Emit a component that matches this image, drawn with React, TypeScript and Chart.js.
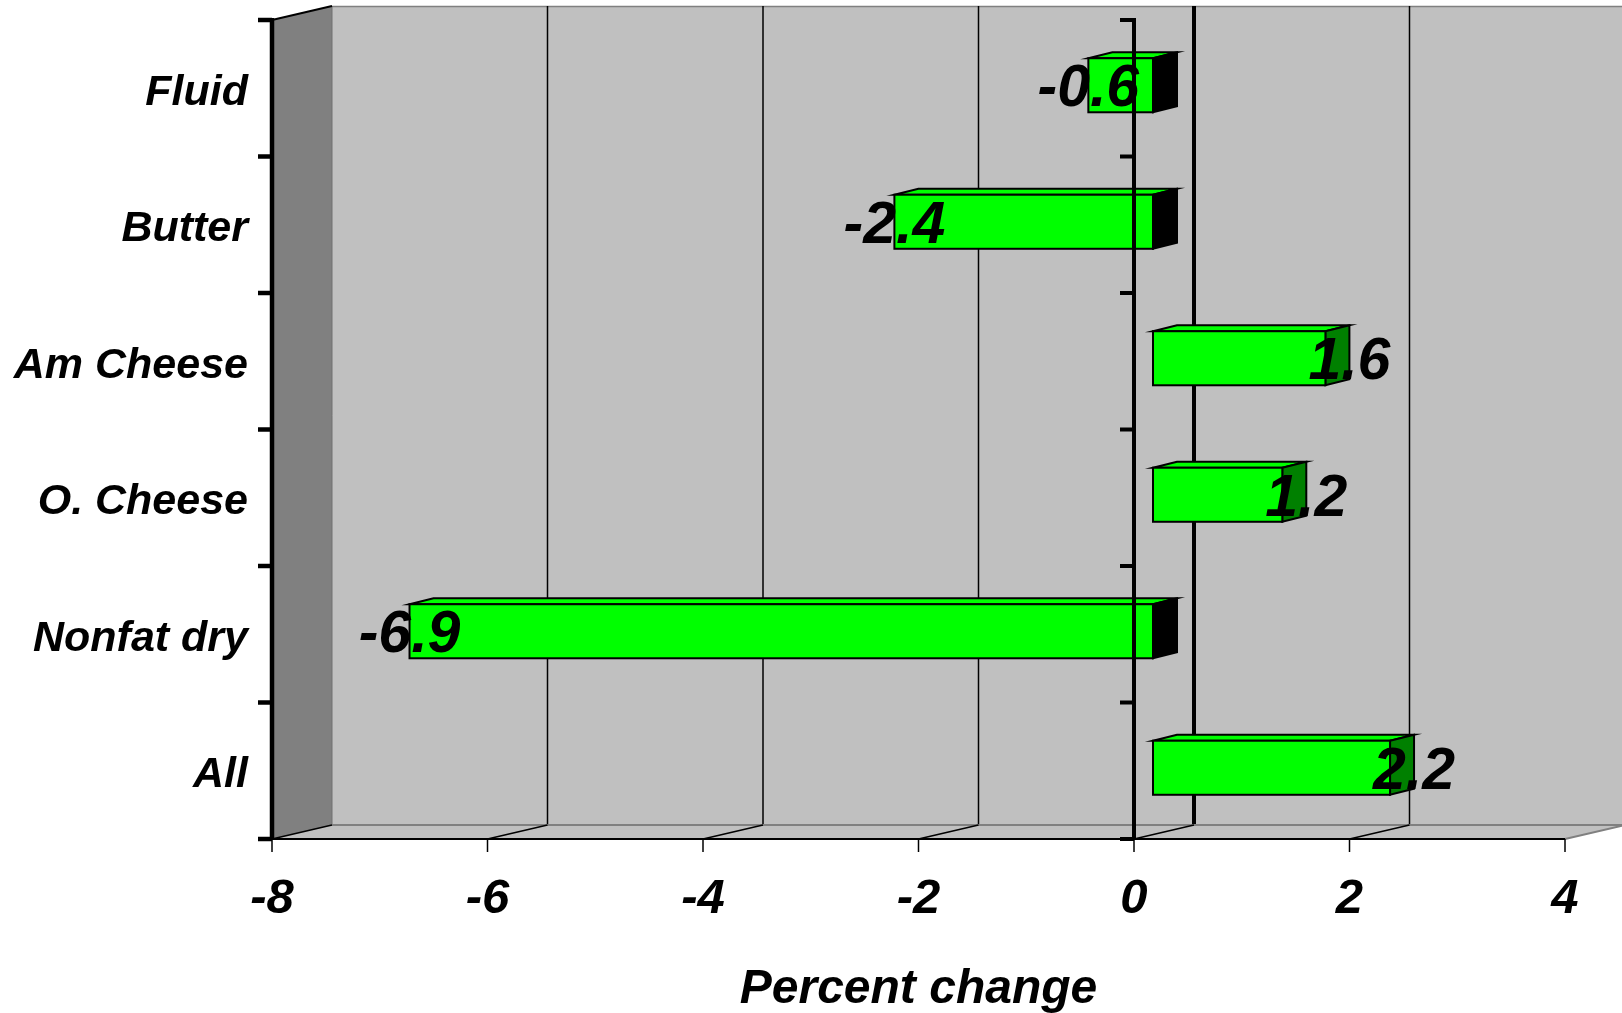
import { useEffect, useRef } from "react";
import { Chart, registerables } from "chart.js";

Chart.register(...registerables);

// ---- data ----
const categories = ["Fluid", "Butter", "Am Cheese", "O. Cheese", "Nonfat dry", "All"];
const values = [-0.6, -2.4, 1.6, 1.2, -6.9, 2.2];
const xTicks = [-8, -6, -4, -2, 0, 2, 4];
const axisTitle = "Percent change";

// ---- 3D geometry (styles) ----
const WALL_DX = 60;
const WALL_DY = -14;
const BAR_DX = 19;
const BAR_DY = -3;
const BAR_DEPTH_DX = 24;
const BAR_DEPTH_DY = -6;
const FONT = '"Liberation Sans", Arial, sans-serif';

const threeD = {
  id: "threeD",
  beforeDatasetsDraw(chart: any) {
    const ctx = chart.ctx as CanvasRenderingContext2D;
    const { top, bottom, left, right } = chart.chartArea;
    const xs = chart.scales.x;
    const W = chart.width;
    ctx.save();
    // back wall
    ctx.fillStyle = "#C0C0C0";
    ctx.fillRect(left + WALL_DX, top + WALL_DY, W - (left + WALL_DX), bottom - top);
    // top border of back wall
    ctx.strokeStyle = "#808080";
    ctx.lineWidth = 1.5;
    ctx.beginPath();
    ctx.moveTo(left + WALL_DX, top + WALL_DY + 0.5);
    ctx.lineTo(W, top + WALL_DY + 0.5);
    ctx.stroke();
    // left wall
    ctx.fillStyle = "#808080";
    ctx.beginPath();
    ctx.moveTo(left, top);
    ctx.lineTo(left + WALL_DX, top + WALL_DY);
    ctx.lineTo(left + WALL_DX, bottom + WALL_DY);
    ctx.lineTo(left, bottom);
    ctx.closePath();
    ctx.fill();
    ctx.strokeStyle = "#707070";
    ctx.lineWidth = 1;
    ctx.beginPath();
    ctx.moveTo(left + WALL_DX, top + WALL_DY);
    ctx.lineTo(left + WALL_DX, bottom + WALL_DY);
    ctx.stroke();
    // left wall top edge
    ctx.strokeStyle = "#000";
    ctx.lineWidth = 2;
    ctx.beginPath();
    ctx.moveTo(left, top);
    ctx.lineTo(left + WALL_DX, top + WALL_DY);
    ctx.stroke();
    // back wall gridlines
    ctx.strokeStyle = "#000";
    xTicks.forEach((v) => {
      if (v === xTicks[0]) return;
      const x = xs.getPixelForValue(v) + WALL_DX;
      ctx.lineWidth = v === 0 ? 4 : 1.5;
      ctx.beginPath();
      ctx.moveTo(x, top + WALL_DY);
      ctx.lineTo(x, bottom + WALL_DY);
      ctx.stroke();
    });
    // floor
    ctx.fillStyle = "#C0C0C0";
    ctx.beginPath();
    ctx.moveTo(left, bottom);
    ctx.lineTo(left + WALL_DX, bottom + WALL_DY);
    ctx.lineTo(right + WALL_DX, bottom + WALL_DY);
    ctx.lineTo(right, bottom);
    ctx.closePath();
    ctx.fill();
    ctx.strokeStyle = "#808080";
    ctx.lineWidth = 2;
    ctx.beginPath();
    ctx.moveTo(left + WALL_DX, bottom + WALL_DY);
    ctx.lineTo(right + WALL_DX, bottom + WALL_DY);
    ctx.moveTo(right, bottom);
    ctx.lineTo(right + WALL_DX, bottom + WALL_DY);
    ctx.stroke();
    // floor diagonals
    ctx.strokeStyle = "#000";
    ctx.lineWidth = 1.5;
    xTicks.forEach((v) => {
      const x = xs.getPixelForValue(v);
      if (v === xTicks[xTicks.length - 1]) return;
      ctx.beginPath();
      ctx.moveTo(x, bottom);
      ctx.lineTo(x + WALL_DX, bottom + WALL_DY);
      ctx.stroke();
    });
    ctx.restore();
  },
  afterDatasetsDraw(chart: any) {
    const ctx = chart.ctx as CanvasRenderingContext2D;
    const { top, bottom, left, right } = chart.chartArea;
    const xs = chart.scales.x;
    const ys = chart.scales.y;
    const meta = chart.getDatasetMeta(0);
    const ds = chart.data.datasets[0].data as number[];
    ctx.save();
    ctx.lineJoin = "miter";
    const boxes: any[] = [];
    meta.data.forEach((el: any, i: number) => {
      const v = ds[i];
      const h = el.height;
      const x0 = Math.min(el.x, el.base) + BAR_DX;
      const x1 = Math.max(el.x, el.base) + BAR_DX;
      const y0 = el.y - h / 2 + BAR_DY;
      const y1 = el.y + h / 2 + BAR_DY;
      boxes.push({ v, x0, x1, y0, y1 });
      ctx.strokeStyle = "#000";
      ctx.lineWidth = 2;
      // top face
      ctx.fillStyle = "#00FF00";
      ctx.beginPath();
      ctx.moveTo(x0, y0);
      ctx.lineTo(x0 + BAR_DEPTH_DX, y0 + BAR_DEPTH_DY);
      ctx.lineTo(x1 + BAR_DEPTH_DX, y0 + BAR_DEPTH_DY);
      ctx.lineTo(x1, y0);
      ctx.closePath();
      ctx.fill();
      ctx.stroke();
      // side face
      ctx.fillStyle = v < 0 ? "#000000" : "#008000";
      ctx.beginPath();
      ctx.moveTo(x1, y0);
      ctx.lineTo(x1 + BAR_DEPTH_DX, y0 + BAR_DEPTH_DY);
      ctx.lineTo(x1 + BAR_DEPTH_DX, y1 + BAR_DEPTH_DY);
      ctx.lineTo(x1, y1);
      ctx.closePath();
      ctx.fill();
      ctx.stroke();
      // front face
      ctx.fillStyle = "#00FF00";
      ctx.fillRect(x0, y0, x1 - x0, y1 - y0);
      ctx.strokeRect(x0, y0, x1 - x0, y1 - y0);
    });

    // front axes
    const n = categories.length;
    const step = (bottom - top) / n;
    ctx.strokeStyle = "#000";
    ctx.lineCap = "butt";
    // left axis
    ctx.lineWidth = 4.5;
    ctx.beginPath();
    ctx.moveTo(left, top - 2);
    ctx.lineTo(left, bottom + 1);
    ctx.stroke();
    for (let k = 0; k <= n; k++) {
      const y = top + k * step;
      ctx.beginPath();
      ctx.moveTo(left - 14, y);
      ctx.lineTo(left, y);
      ctx.stroke();
    }
    // zero axis
    const x0p = xs.getPixelForValue(0);
    ctx.lineWidth = 4;
    ctx.beginPath();
    ctx.moveTo(x0p, top - 2);
    ctx.lineTo(x0p, bottom + 1);
    ctx.stroke();
    for (let k = 0; k <= n; k++) {
      const y = top + k * step;
      ctx.beginPath();
      ctx.moveTo(x0p - 14, y);
      ctx.lineTo(x0p, y);
      ctx.stroke();
    }
    // bottom axis
    ctx.lineWidth = 2;
    ctx.beginPath();
    ctx.moveTo(left, bottom);
    ctx.lineTo(right, bottom);
    ctx.stroke();
    ctx.lineWidth = 1.5;
    xTicks.forEach((v) => {
      const x = xs.getPixelForValue(v);
      ctx.beginPath();
      ctx.moveTo(x, bottom);
      ctx.lineTo(x, bottom + 13);
      ctx.stroke();
    });

    // category labels
    ctx.fillStyle = "#000";
    ctx.font = `italic bold 43px ${FONT}`;
    ctx.textAlign = "right";
    ctx.textBaseline = "alphabetic";
    categories.forEach((c, i) => {
      const y = ys.getPixelForValue(i);
      ctx.fillText(c, left - 24, y + 16.5);
    });
    // tick labels
    ctx.font = `italic bold 49px ${FONT}`;
    ctx.textAlign = "center";
    xTicks.forEach((v) => {
      ctx.fillText(String(v), xs.getPixelForValue(v), bottom + 74);
    });
    // axis title
    ctx.font = `italic bold 48px ${FONT}`;
    ctx.fillText(axisTitle, (left + right) / 2, bottom + 164);
    // value labels
    ctx.font = `italic bold 59px ${FONT}`;
    boxes.forEach((b) => {
      const cx = b.v < 0 ? b.x0 : b.x1 + BAR_DEPTH_DX;
      const cy = (b.y0 + b.y1) / 2;
      ctx.fillText(b.v.toFixed(1), cx, cy + 21);
    });
    ctx.restore();
  },
};

export default function App() {
  const ref = useRef<HTMLCanvasElement | null>(null);
  useEffect(() => {
    if (!ref.current) return;
    const chart = new Chart(ref.current, {
      type: "bar",
      data: {
        labels: categories,
        datasets: [
          {
            data: values,
            backgroundColor: "rgba(0,0,0,0)",
            borderWidth: 0,
            categoryPercentage: 1,
            barPercentage: 0.396,
          },
        ],
      },
      options: {
        indexAxis: "y",
        responsive: false,
        animation: false,
        events: [],
        layout: { padding: { left: 272, right: 57, top: 20, bottom: 174 } },
        scales: {
          x: { type: "linear", min: -8, max: 4, display: false },
          y: { type: "category", display: false, offset: true },
        },
        plugins: {
          legend: { display: false },
          title: { display: false },
          tooltip: { enabled: false },
        },
      },
      plugins: [threeD],
    });
    return () => chart.destroy();
  }, []);
  return (
    <div style={{ position: "fixed", left: 0, top: 0, width: 1622, height: 1013, background: "#fff" }}>
      <canvas ref={ref} width={1622} height={1013} style={{ display: "block" }} />
    </div>
  );
}
